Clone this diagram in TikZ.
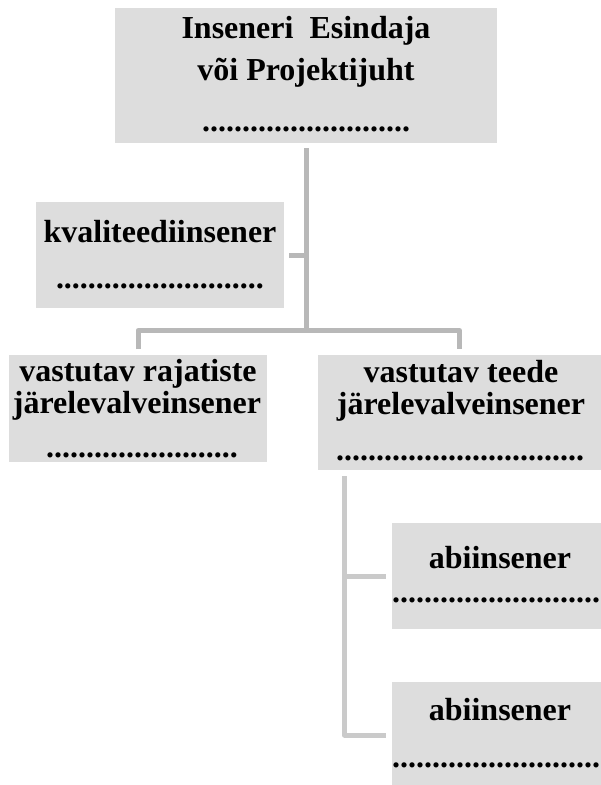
\documentclass[tikz,border=0pt]{standalone}
\usepackage{fontspec}
\setmainfont{Liberation Serif}
\definecolor{boxgray}{HTML}{DDDDDD}
\definecolor{linegray}{HTML}{B8B8B8}
\definecolor{linegraylight}{HTML}{CACACA}
\newcommand{\dotrow}[1]{\foreach \i in {1,...,#1}{.}}
\tikzset{
  box/.style={rectangle, fill=boxgray, draw=none, inner sep=0pt, outer sep=0pt},
  txt/.style={inner sep=0pt, outer sep=0pt, anchor=base, font=\bfseries\fontsize{32}{36}\selectfont},
  conn/.style={draw=linegray, line width=5pt, line join=round},
  connlight/.style={draw=linegraylight, line width=5pt, line join=round}
}
\begin{document}
\begin{tikzpicture}[x=1pt, y=-1pt]
\useasboundingbox (0,0) rectangle (601,785);
\clip (0,0) rectangle (601,785);
\fill[white] (0,0) rectangle (601,785);

% boxes
\node[box, minimum width=382pt, minimum height=135pt] (top) at (306,75.5) {};
\node[box, minimum width=248pt, minimum height=106pt] (kval) at (160,255) {};
\node[box, minimum width=258pt, minimum height=107pt] (left) at (138,408.5) {};
\node[box, minimum width=283pt, minimum height=115pt] (right) at (459.5,412.5) {};
\node[box, minimum width=215pt, minimum height=106pt] (abi1) at (499.5,576) {};
\node[box, minimum width=215pt, minimum height=106pt] (abi2) at (499.5,735) {};

% texts
\node[txt] (t1) at (306,38) {Inseneri\ \ Esindaja};
\node[txt] (t2) at (306,80) {või Projektijuht};
\node[txt] (t3) at (306,131) {\dotrow{26}};

\node[txt] (k1) at (160,242) {kvaliteediinsener};
\node[txt] (k2) at (160,288) {\dotrow{26}};

\node[txt] (l1) at (138,381) {vastutav rajatiste};
\node[txt] (l2) at (137,413) {järelevalveinsener};
\node[txt] (l3) at (142,457) {\dotrow{24}};

\node[txt] (r1) at (461,382) {vastutav teede};
\node[txt] (r2) at (461,414) {järelevalveinsener};
\node[txt] (r3) at (460,460) {\dotrow{31}};

\node[txt] (a1) at (500,568) {abiinsener};
\node[txt, anchor=base west] (a2) at (392,602) {\dotrow{28}};
\node[txt] (b1) at (500,720) {abiinsener};
\node[txt, anchor=base west] (b2) at (392,767) {\dotrow{28}};

% connectors
\coordinate (hb) at (306,330.5);
\coordinate (vx) at (344.5,0);
\draw[conn, shorten <=5pt] (top.south) -- (hb);
\draw[conn, shorten <=5pt] (kval.east) -- (kval.east -| hb);
\draw[conn, shorten <=6pt, shorten >=6pt] (left.north) -- (left.north |- hb) -- (right.north |- hb) -- (right.north);
\draw[connlight, shorten <=6pt, shorten >=6pt] (right.south -| vx) -- (abi2.west -| vx) -- (abi2.west);
\draw[connlight, shorten >=6pt] (abi1.west -| vx) -- (abi1.west);
\end{tikzpicture}
\end{document}
